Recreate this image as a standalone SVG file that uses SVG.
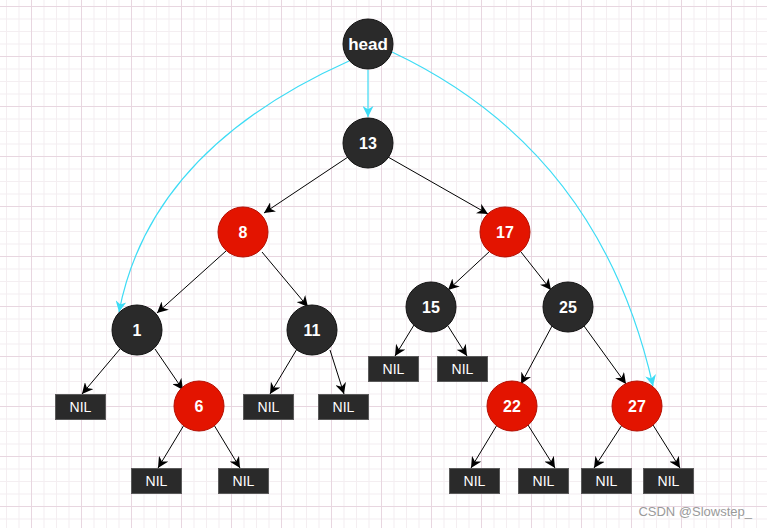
<svg xmlns="http://www.w3.org/2000/svg" width="767" height="528" viewBox="0 0 767 528">
<style>
.blk{fill:#2a2a2a;stroke:#111;stroke-width:1}
.red{fill:#e31400;stroke:#b50d00;stroke-width:1}
.nil{fill:#2a2a2a;stroke:#5a5a5a;stroke-width:1}
.t{fill:#fff;font-family:"Liberation Sans",Arial,sans-serif;font-weight:bold;font-size:16px;text-anchor:middle;dominant-baseline:central}
.nt{fill:#fff;font-family:"Liberation Sans",Arial,sans-serif;font-size:14px;text-anchor:middle;dominant-baseline:central}
.e{stroke:#000;stroke-width:1;fill:none;marker-end:url(#ah)}
.c{stroke:#3ddcf5;stroke-width:1.2;fill:none;marker-end:url(#ahc)}
</style>
<defs>
<pattern id="grid" patternUnits="userSpaceOnUse" x="31" y="6" width="50" height="50">
<rect x="0" y="0" width="50" height="50" fill="#fff"/>
<rect x="12.5" y="0" width="1" height="50" fill="#f4eef1"/>
<rect x="25" y="0" width="1" height="50" fill="#f4eef1"/>
<rect x="37.5" y="0" width="1" height="50" fill="#f4eef1"/>
<rect x="0" y="12.5" width="50" height="1" fill="#f4eef1"/>
<rect x="0" y="25" width="50" height="1" fill="#f4eef1"/>
<rect x="0" y="37.5" width="50" height="1" fill="#f4eef1"/>
<rect x="0" y="0" width="1" height="50" fill="#e8d6e0"/>
<rect x="0" y="0" width="50" height="1" fill="#e8d6e0"/>
</pattern>
<marker id="ah" viewBox="0 0 10 10" refX="10" refY="5" markerWidth="11" markerHeight="11" markerUnits="userSpaceOnUse" orient="auto">
<path d="M0,0 L10,5 L0,10 L3,5 z" fill="#000"/>
</marker>
<marker id="ahc" viewBox="0 0 10 10" refX="10" refY="5" markerWidth="11" markerHeight="11" markerUnits="userSpaceOnUse" orient="auto">
<path d="M0,0 L10,5 L0,10 L3,5 z" fill="#3ddcf5"/>
</marker>
</defs>
<rect x="0" y="0" width="767" height="528" fill="url(#grid)"/>
<g id="connectors">
<path class="c" d="M368,70 L368,117"/>
<path class="c" d="M349,61 Q150,150 119,312"/>
<path class="c" d="M392,52 Q600,150 653,386"/>
<path class="e" d="M348,157 L264,213"/>
<path class="e" d="M388,157 L488,214"/>
<path class="e" d="M226,251 L157,313"/>
<path class="e" d="M262,252 L308,307"/>
<path class="e" d="M490,251 L448,290"/>
<path class="e" d="M521,252 L551,290"/>
<path class="e" d="M120,349 L82,394"/>
<path class="e" d="M155,349 L183,390"/>
<path class="e" d="M297,349 L270,394"/>
<path class="e" d="M330,350 L344,394"/>
<path class="e" d="M414,325 L395,356"/>
<path class="e" d="M448,326 L467,356"/>
<path class="e" d="M552,326 L521,384"/>
<path class="e" d="M584,326 L626,384"/>
<path class="e" d="M184,425 L158,468"/>
<path class="e" d="M214,425 L240,468"/>
<path class="e" d="M497,425 L471,468"/>
<path class="e" d="M528,425 L555,468"/>
<path class="e" d="M622,425 L594,468"/>
<path class="e" d="M653,425 L680,468"/>
</g>
<g id="head"><circle class="blk" cx="368" cy="44" r="25"/><text class="t" x="368" y="44" style="font-size:17px">head</text></g>
<g id="n13"><circle class="blk" cx="368" cy="143" r="25"/><text class="t" x="368" y="143">13</text></g>
<g id="n8"><circle class="red" cx="243" cy="232" r="25"/><text class="t" x="243" y="232">8</text></g>
<g id="n17"><circle class="red" cx="505" cy="232" r="25"/><text class="t" x="505" y="232">17</text></g>
<g id="n1"><circle class="blk" cx="137" cy="330" r="25"/><text class="t" x="137" y="330">1</text></g>
<g id="n11"><circle class="blk" cx="312" cy="330" r="25"/><text class="t" x="312" y="330">11</text></g>
<g id="n15"><circle class="blk" cx="431" cy="307" r="25"/><text class="t" x="431" y="307">15</text></g>
<g id="n25"><circle class="blk" cx="568" cy="307" r="25"/><text class="t" x="568" y="307">25</text></g>
<g id="n6"><circle class="red" cx="199" cy="406" r="25"/><text class="t" x="199" y="406">6</text></g>
<g id="n22"><circle class="red" cx="512" cy="406" r="25"/><text class="t" x="512" y="406">22</text></g>
<g id="n27"><circle class="red" cx="637" cy="406" r="25"/><text class="t" x="637" y="406">27</text></g>
<g id="nil1"><rect class="nil" x="55.5" y="394.5" width="50" height="25"/><text class="nt" x="80.5" y="407">NIL</text></g>
<g id="nil2"><rect class="nil" x="243.5" y="394.5" width="50" height="25"/><text class="nt" x="268.5" y="407">NIL</text></g>
<g id="nil3"><rect class="nil" x="318.5" y="394.5" width="50" height="25"/><text class="nt" x="343.5" y="407">NIL</text></g>
<g id="nil4"><rect class="nil" x="368.5" y="356.5" width="50" height="25"/><text class="nt" x="393.5" y="369">NIL</text></g>
<g id="nil5"><rect class="nil" x="437.5" y="356.5" width="50" height="25"/><text class="nt" x="462.5" y="369">NIL</text></g>
<g id="nil6"><rect class="nil" x="131.5" y="468.5" width="50" height="25"/><text class="nt" x="156.5" y="481">NIL</text></g>
<g id="nil7"><rect class="nil" x="218.5" y="468.5" width="50" height="25"/><text class="nt" x="243.5" y="481">NIL</text></g>
<g id="nil8"><rect class="nil" x="449.5" y="468.5" width="50" height="25"/><text class="nt" x="474.5" y="481">NIL</text></g>
<g id="nil9"><rect class="nil" x="518.5" y="468.5" width="50" height="25"/><text class="nt" x="543.5" y="481">NIL</text></g>
<g id="nil10"><rect class="nil" x="581.5" y="468.5" width="50" height="25"/><text class="nt" x="606.5" y="481">NIL</text></g>
<g id="nil11"><rect class="nil" x="643.5" y="468.5" width="50" height="25"/><text class="nt" x="668.5" y="481">NIL</text></g>
<text x="752" y="516" style="fill:#9a9a9a;font-family:'Liberation Sans',Arial,sans-serif;font-size:13px;text-anchor:end">CSDN @Slowstep_</text>
</svg>
